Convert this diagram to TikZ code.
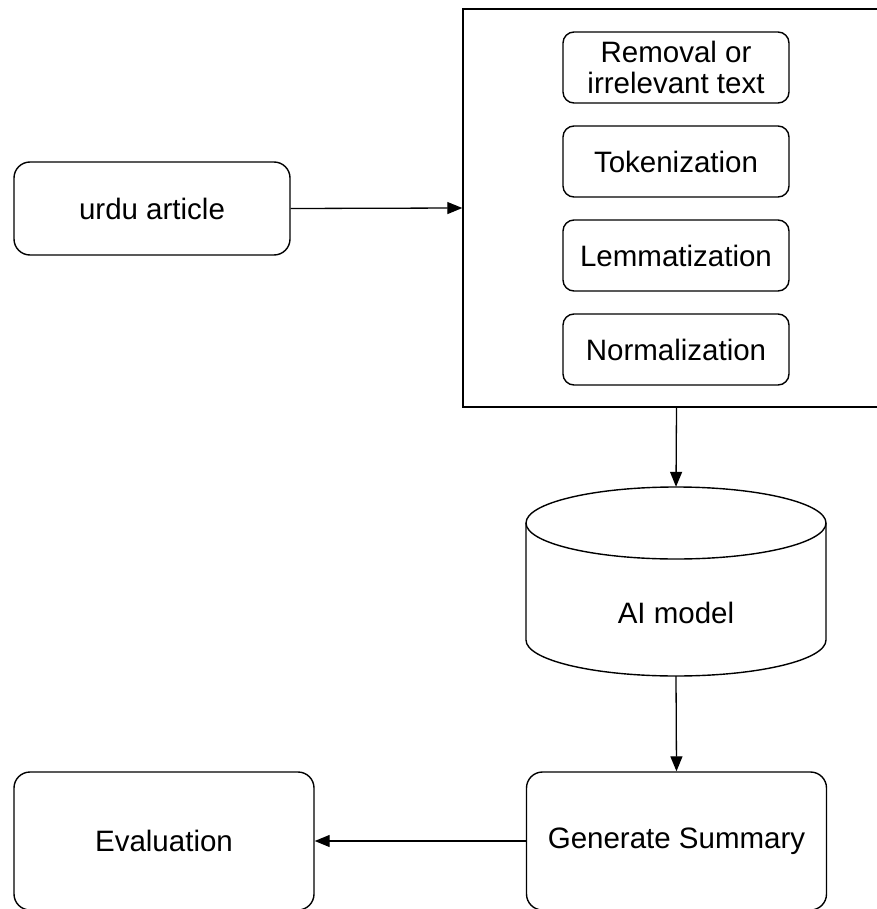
\documentclass[tikz,border=0pt]{standalone}
\usepackage{fontspec}
\setmainfont{Liberation Sans}
\usetikzlibrary{arrows.meta}
\begin{document}
\begin{tikzpicture}[x=1pt,y=-1pt,
  box/.style={draw, line width=1.4pt, rounded corners=16pt, align=center, font=\fontsize{29.5}{33}\selectfont, inner sep=0pt},
  inbox/.style={draw, line width=1.4pt, rounded corners=11pt, align=center, font=\fontsize{29.5}{31}\selectfont, minimum width=226pt, minimum height=71pt, inner sep=0pt},
  conn/.style={line width=1.3pt, -{Triangle[length=15pt,width=12pt]}}]
\useasboundingbox (0,0) rectangle (876,909);
\node[box, minimum width=276pt, minimum height=93pt] (urdu) at (152,208.5) {urdu article};
\node[draw, line width=1.4pt, minimum width=427pt, minimum height=398pt, inner sep=0pt] (pre) at (676.5,208) {};
\node[inbox] (rem) at (676,67.5) {Removal or\\irrelevant text};
\node[inbox] (tok) at (676,161.5) {Tokenization};
\node[inbox] (lem) at (676,255.5) {Lemmatization};
\node[inbox] (nor) at (676,349.5) {Normalization};
% cylinder
\node[minimum width=300pt, minimum height=189pt, inner sep=0pt] (ai) at (676,581.5) {};
\draw[line width=1.4pt] (676,523) ellipse [x radius=150, y radius=36];
\draw[line width=1.4pt] (526,523) -- (526,640) arc[start angle=180, end angle=0, x radius=150, y radius=36] -- (826,523);
\node[font=\fontsize{29.5}{33}\selectfont] (ailabel) at (676,613) {AI model};
\node[box, minimum width=300pt, minimum height=138pt] (gen) at (676.5,841) {Generate Summary};
\node[box, minimum width=300pt, minimum height=138pt] (eval) at (164,841) {Evaluation};
\draw[conn] (urdu.east) -- (pre.west);
\draw[conn] (pre.south) -- (ai.north);
\draw[conn] (ai.south) -- (gen.north);
\draw[conn] (gen.west) -- (eval.east);
\end{tikzpicture}
\end{document}
